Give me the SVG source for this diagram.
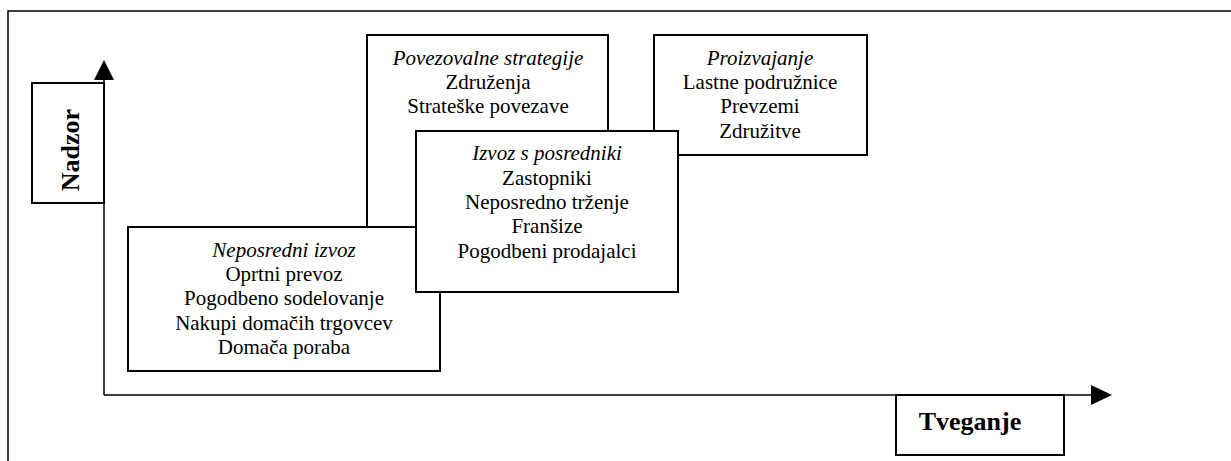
<svg xmlns="http://www.w3.org/2000/svg" width="1231" height="461" viewBox="0 0 1231 461">
<style>
.box{fill:#fff;stroke:#000;stroke-width:2}
.t{font-family:"Liberation Serif","Times New Roman",serif;font-size:21px;fill:#000;text-anchor:middle}
.i{font-style:italic}
.b{font-family:"Liberation Serif","Times New Roman",serif;font-size:26px;font-weight:bold;fill:#000;text-anchor:middle}
.ax{stroke:#000;stroke-width:1.5;fill:none}
</style>
<rect x="8" y="11" width="1300" height="500" fill="#fff" stroke="#000" stroke-width="1.5"/>
<g id="connectors">
<line class="ax" x1="104" y1="395" x2="104" y2="78"/>
<polygon points="104,60 114,80 94,80" fill="#000"/>
<line class="ax" x1="104" y1="395" x2="1093" y2="395"/>
<polygon points="1112,395 1091,385 1091,405" fill="#000"/>
</g>
<g id="nadzor">
<rect class="box" x="32" y="83" width="72" height="120"/>
<text class="b" transform="translate(79,150) rotate(-90)">Nadzor</text>
</g>
<g id="tveganje">
<rect class="box" x="896" y="395" width="168" height="60"/>
<text class="b" x="970" y="430">Tveganje</text>
</g>
<g id="povezovalne">
<rect class="box" x="367" y="35" width="241" height="240"/>
<text class="t i" x="488" y="65">Povezovalne strategije</text>
<text class="t" x="488" y="89">Združenja</text>
<text class="t" x="488" y="113">Strateške povezave</text>
</g>
<g id="neposredni">
<rect class="box" x="128" y="227" width="312" height="144"/>
<text class="t i" x="284" y="257">Neposredni izvoz</text>
<text class="t" x="284" y="281">Oprtni prevoz</text>
<text class="t" x="284" y="305">Pogodbeno sodelovanje</text>
<text class="t" x="284" y="330">Nakupi domačih trgovcev</text>
<text class="t" x="284" y="354">Domača poraba</text>
</g>
<g id="proizvajanje">
<rect class="box" x="654" y="35" width="213" height="120"/>
<text class="t i" x="760" y="65">Proizvajanje</text>
<text class="t" x="760" y="89">Lastne podružnice</text>
<text class="t" x="760" y="113">Prevzemi</text>
<text class="t" x="760" y="138">Združitve</text>
</g>
<g id="izvoz">
<rect class="box" x="416" y="131" width="262" height="161"/>
<text class="t i" x="547" y="160">Izvoz s posredniki</text>
<text class="t" x="547" y="185">Zastopniki</text>
<text class="t" x="547" y="209">Neposredno trženje</text>
<text class="t" x="547" y="233">Franšize</text>
<text class="t" x="547" y="258">Pogodbeni prodajalci</text>
</g>
</svg>
